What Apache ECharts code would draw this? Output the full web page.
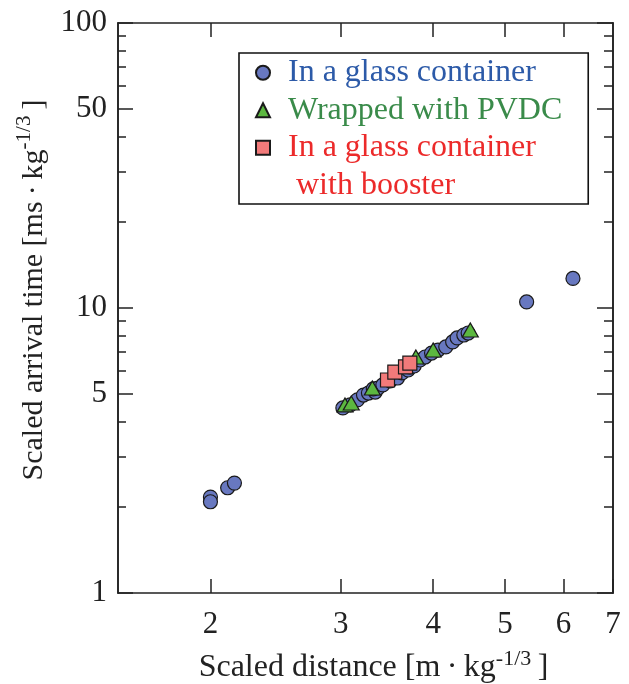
<!DOCTYPE html>
<html>
<head>
<meta charset="utf-8">
<script src="https://cdn.jsdelivr.net/npm/echarts@6/dist/echarts.min.js"></script>
<style>
html,body{margin:0;padding:0;background:#fff;}
#chart{width:629px;height:684px;}
</style>
</head>
<body>
<div id="chart"></div>
<script>
// ---- data ----
const seriesNames = ['In a glass container', 'Wrapped with PVDC', 'In a glass container', ' with booster'];
const glassPoints = [
  [2.00, 2.17], [2.00, 2.09], [2.11, 2.34], [2.155, 2.43],
  [3.02, 4.46], [3.09, 4.57], [3.16, 4.76], [3.22, 4.95], [3.27, 5.03], [3.34, 5.07],
  [3.32, 5.20], [3.37, 5.24], [3.42, 5.37], [3.50, 5.55], [3.58, 5.68], [3.63, 5.92],
  [3.70, 6.06], [3.72, 6.21], [3.77, 6.26], [3.84, 6.57], [3.90, 6.73], [3.98, 6.95],
  [4.06, 7.12], [4.16, 7.30], [4.25, 7.60], [4.31, 7.85], [4.40, 8.04], [4.46, 8.17],
  [5.35, 10.5], [6.18, 12.7]
];
const pvdcPoints = [
  [3.04, 4.57], [3.10, 4.64], [3.31, 5.24], [3.79, 6.73], [4.00, 7.12], [4.49, 8.37]
];
const boosterPoints = [
  [3.47, 5.59], [3.55, 5.96], [3.67, 6.21], [3.72, 6.41]
];
const xTicks = [2, 3, 4, 5, 6, 7];
const xTopTicks = [2, 3, 4, 5, 6];
const yMajorTicks = [1, 5, 10, 50, 100];
const yMinorTicks = [2, 3, 4, 6, 7, 8, 9, 20, 30, 40, 60, 70, 80, 90];

const FONT = '"Liberation Serif", "Times New Roman", serif';
const AX = '#222';
const markerBorder = { borderColor: '#1a1a1a', borderWidth: 1.2 };

function logAxis(extra) {
  return Object.assign({
    type: 'log', logBase: 10,
    splitLine: { show: false },
    minorTick: { show: false },
    minorSplitLine: { show: false },
    axisLine: { show: true, onZero: false, lineStyle: { color: AX, width: 1.6 } },
    axisTick: { show: true, inside: true, lineStyle: { color: AX, width: 1.5 } },
    axisLabel: { show: false }
  }, extra);
}

const xMin = 1.5, xMax = 7, yMin = 1, yMax = 100;

const option = {
  backgroundColor: '#fff',
  animation: false,
  grid: { left: 118, right: 16, top: 23, bottom: 91, containLabel: false, outerBoundsMode: 'none' },
  legend: {
    orient: 'vertical',
    left: 239, top: 53,
    padding: [1, 26, 0, 16],
    itemWidth: 14, itemHeight: 14,
    itemGap: 0,
    borderColor: '#111', borderWidth: 1.6,
    backgroundColor: '#fff',
    selectedMode: false,
    textStyle: { fontFamily: FONT, fontSize: 32, lineHeight: 37.5, padding: [0, 0, 0, 13] },
    data: [
      { name: seriesNames[0], textStyle: { color: '#2c5aa8' } },
      { name: seriesNames[1], textStyle: { color: '#3a8b4a' } },
      { name: seriesNames[2] + ' ', textStyle: { color: '#ec2a2a' } },
      { name: seriesNames[3], icon: 'none', textStyle: { color: '#ec2a2a' } }
    ]
  },
  xAxis: [
    logAxis({
      min: xMin, max: xMax, position: 'bottom',
      axisTick: { show: true, inside: true, length: 14, customValues: xTicks, lineStyle: { color: AX, width: 1.5 } },
      axisLabel: { show: true, customValues: xTicks, margin: 16, color: AX, fontFamily: FONT, fontSize: 31 },
      name: '{t|Scaled distance [m\u2009·\u2009kg}{s|-1/3}{t|\u2009]}',
      nameLocation: 'middle', nameGap: 55,
      nameTextStyle: {
        padding: [0, 0, 0, 16],
        rich: {
          t: { fontFamily: FONT, fontSize: 32, color: AX, lineHeight: 40 },
          s: { fontFamily: FONT, fontSize: 22, color: AX, verticalAlign: 'top', lineHeight: 22 }
        }
      }
    }),
    logAxis({
      min: xMin, max: xMax, position: 'top',
      axisTick: { show: true, inside: true, length: 14, customValues: xTopTicks, lineStyle: { color: AX, width: 1.5 } }
    })
  ],
  yAxis: [
    logAxis({
      min: yMin, max: yMax, position: 'left',
      axisTick: { show: true, inside: true, length: 15, customValues: yMajorTicks, lineStyle: { color: AX, width: 1.5 } },
      axisLabel: { show: true, customValues: yMajorTicks, margin: 11, color: AX, fontFamily: FONT, fontSize: 31 },
      name: '{t|Scaled arrival time [ms\u2009·\u2009kg}{s|-1/3}{t|\u2009]}',
      nameLocation: 'middle', nameGap: 64, nameRotate: 90,
      nameTextStyle: {
        padding: [0, 0, 0, 36],
        rich: {
          t: { fontFamily: FONT, fontSize: 30, color: AX, lineHeight: 40 },
          s: { fontFamily: FONT, fontSize: 21, color: AX, verticalAlign: 'top', lineHeight: 22 }
        }
      }
    }),
    logAxis({
      min: yMin, max: yMax, position: 'left',
      axisTick: { show: true, inside: true, length: 8, customValues: yMinorTicks, lineStyle: { color: AX, width: 1.5 } }
    }),
    logAxis({
      min: yMin, max: yMax, position: 'right',
      axisTick: { show: true, inside: true, length: 16, customValues: yMajorTicks, lineStyle: { color: AX, width: 1.5 } }
    }),
    logAxis({
      min: yMin, max: yMax, position: 'right',
      axisTick: { show: true, inside: true, length: 9, customValues: yMinorTicks, lineStyle: { color: AX, width: 1.5 } }
    })
  ],
  series: [
    {
      name: seriesNames[0], type: 'scatter', symbol: 'circle', symbolSize: 14,
      itemStyle: Object.assign({ color: '#6878c0', opacity: 1 }, markerBorder),
      data: glassPoints, z: 2
    },
    {
      name: seriesNames[1], type: 'scatter', symbol: 'triangle', symbolSize: [16, 14],
      itemStyle: Object.assign({ color: '#5cb840', opacity: 1 }, markerBorder),
      data: pvdcPoints, z: 3
    },
    {
      name: seriesNames[2] + ' ', type: 'scatter', symbol: 'rect', symbolSize: 14,
      itemStyle: Object.assign({ color: '#f27a7a', opacity: 1 }, markerBorder),
      data: boosterPoints, z: 4
    },
    {
      name: seriesNames[3], type: 'scatter', symbol: 'none', data: []
    }
  ]
};

const chart = echarts.init(document.getElementById('chart'), null, { renderer: 'canvas' });
chart.setOption(option);
</script>
</body>
</html>
